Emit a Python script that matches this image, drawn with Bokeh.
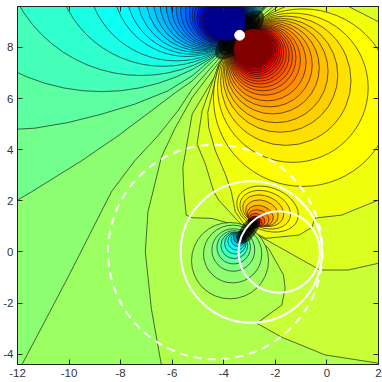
from bokeh.plotting import figure
from bokeh.models import LinearAxis, FixedTicker, Range1d
from bokeh.embed import file_html
from bokeh.resources import INLINE

x_ticks = [-12, -10, -8, -6, -4, -2, 0, 2]
y_ticks = [-4, -2, 0, 2, 4, 6, 8]

# traced outer contour levels (data units)
T = (-3.385, 8.488)
D = (-3.04, 0.858)
band_L4_x = [-6.424,-6.811,-7.043,-6.94,-6.747,-6.424,-5.909,-5.226,T[0],-2.329,2,2]
band_L4_y = [-4.4,-2.2,0.011,1.574,2.355,3.696,4.803,6.04,T[1],9.6,9.6,-4.4]
band_C_x = [T[0],-5.226,-5.587,-5.548,-5.458,-5.228,-4.455,-3.553,D[0],-2.264,-1.684,-1.62,-1.749,-2.715,-1.749,-0.073,2,2,-2.084]
band_C_y = [T[1],5.389,3.306,2.355,1.444,1.339,1.313,1.053,D[1],0.141,-0.9,-1.421,-2.072,-2.788,-3.335,-4.025,-4.35,9.6,9.6]
band_B_x = [T[0],-4.197,-4.841,-5.035,-4.713,-4.39,-4.197,-3.424,D[0],-1.877,-0.267,0.829,2,2,-1.903]
band_B_y = [T[1],7.342,5.519,4.217,3.436,2.355,2.03,1.183,D[1],0.207,-0.705,-0.705,-0.44,9.6,9.6]
band_A_x = [T[0],-4.184,-4.622,-4.584,-4.326,-3.939,-3.707,-3.553,D[0],-2.367,-1.078,-0.588,-0.459,0.571,2,2,0.842,-1.607,-2.393]
band_A_y = [T[1],7.342,5.454,4.868,3.957,3.045,2.355,1.574,D[1],0.532,0.662,0.962,1.326,1.443,2.03,9.0,9.6,9.6,9.23]
band_L3_x = [-11.824,-10.097,-8.357,-7.455,-6.553,-5.78,-5.226,T[0],-2.367,-12,-12]
band_L3_y = [-4.4,-1.096,2.355,3.566,4.543,5.519,6.366,T[1],9.6,9.6,-4.4]
band_L2_x = [-12,-11.45,-9.517,-8.1,-6.811,-5.78,-5.226,T[0],-2.4,-12]
band_L2_y = [2.03,2.355,3.566,4.543,5.519,6.3,6.69,T[1],9.6,9.6]
band_L1_x = [-12,-11.321,-10.033,-8.744,-7.455,-6.167,-5.226,T[0],-2.43,-12]
band_L1_y = [4.803,4.842,5.063,5.389,5.78,6.3,6.886,T[1],9.6,9.6]

base_colour = "#9cff62"
red_bands = [(band_L4_x,band_L4_y,"#b0ff4f"),(band_C_x,band_C_y,"#c8ff36"),(band_B_x,band_B_y,"#dcff22"),(band_A_x,band_A_y,"#f0ff0e")]
blue_bands = [(band_L3_x,band_L3_y,"#8cff72"),(band_L2_x,band_L2_y,"#72ff8c"),(band_L1_x,band_L1_y,"#5cffa2")]

# upper pair: rings tangent at T, radius in data units
red_ring_r = [3.47,2.92,2.53,2.23,2.01,1.81,1.65,1.51,1.38,1.28,1.2,1.125,1.06,1.0,0.95,0.905,0.864,0.826,0.792]
red_ring_c = ["#ffff00","#fff000","#ffe000","#ffd000","#ffc000","#ffb000","#ffa000","#ff9000","#ff8000","#ff7000","#ff6000","#ff5000","#ff4000","#ff3000","#ff2000","#ff1000","#ff0000","#f00000","#e00000"]
blue_ring_r = [7.57,5.42,4.19,3.47,2.88,2.58,2.34,2.13,1.96,1.81,1.67,1.55,1.44,1.34,1.23,1.14,1.08,1.03,0.97,0.93,0.89,0.85,0.82,0.785]
blue_ring_c = ["#46ffb8","#30ffce","#1affe4","#0cfff2","#00ffff","#00f0ff","#00e0ff","#00d0ff","#00c0ff","#00b0ff","#00a0ff","#0090ff","#0080ff","#0070ff","#0060ff","#0050ff","#0040ff","#0030ff","#0020ff","#0010ff","#0000ff","#0000e0","#0000c0","#0000a0"]
disk_r = [0.766, 0.753]
disk_c = ["#800000", "#00008f"]
disk_dir = [1, -1]

# lower pair
lobe_b_x = [-3.758,-3.655,-3.63,-3.617,-3.591,-3.552,-3.501,-3.449,-3.397,-3.346,-3.294,-3.243,-3.191,-3.14]
lobe_b_y = [-0.34,-0.079,0.077,0.181,0.259,0.338,0.416,0.494,0.559,0.624,0.676,0.728,0.767,0.806]
lobe_b_r = [1.494,1.13,0.831,0.649,0.519,0.416,0.338,0.273,0.221,0.175,0.143,0.11,0.078,0.052]
lobe_b_c = ["#a0ff60","#8fff70","#80ff80","#60ffa0","#40ffc0","#20ffe0","#00ffff","#00d8e8","#00a8c0","#008098","#005870","#003848","#001820","#000000"]
lobe_r_x = [-2.302,-2.392,-2.47,-2.521,-2.586,-2.65,-2.727,-2.779,-2.83,-2.882,-2.934,-2.985]
lobe_r_y = [1.678,1.652,1.613,1.522,1.418,1.326,1.248,1.183,1.118,1.053,1.001,0.936]
lobe_r_w = [2.468,2.026,1.636,1.299,1.039,0.831,0.649,0.519,0.39,0.312,0.234,0.156]
lobe_r_h = [1.688,1.429,1.169,0.987,0.779,0.623,0.494,0.39,0.312,0.26,0.208,0.143]
lobe_r_c = ["#ffff00","#ffec00","#ffd800","#ffc000","#ffa000","#ff8000","#ff5000","#e03000","#a02000","#602000","#301000","#100000"]
lobe_tilt = -0.35

# dark patches where the contour lines merge
core_x = [T[0], T[0], T[0], D[0], D[0], D[0]]
core_y = [T[1], T[1], T[1], D[1], D[1], D[1]]
core_w = [2.5, 2.1, 1.7, 1.3, 1.0, 0.75]
core_h = [1.0, 0.75, 0.5, 0.6, 0.42, 0.28]
core_angle = [0.785, 0.785, 0.785, 0.93, 0.93, 0.93]

# white markers
circle_x = [-1.85, -2.93]
circle_y = [0.0, 0.0]
circle_r = [1.58, 2.74]
dashed_x, dashed_y, dashed_r = -4.33, 0.0, 4.16
dot_x, dot_y, dot_r = -3.385, 8.475, 0.19

p = figure(width=382, height=382, output_backend="svg", toolbar_location=None,
           x_range=Range1d(-12, 2), y_range=Range1d(-4.4, 9.6),
           min_border_left=16, min_border_right=4, min_border_top=6, min_border_bottom=18,
           x_axis_type=None, y_axis_type=None,
           background_fill_color=base_colour, outline_line_color="#222222", outline_line_width=1)
p.grid.visible = False

LW = 0.8
LC = "#111111"
LA = 0.8
def band(xs, ys, c):
    p.patch(xs, ys, fill_color=c, line_color=LC, line_width=LW, line_alpha=LA)
def rings(x, y, w, h, c, angle=0.0):
    p.ellipse(x=x, y=y, width=w, height=h, angle=angle, fill_color=c, line_color=LC, line_width=LW, line_alpha=LA)

for xs, ys, c in red_bands:
    band(xs, ys, c)
k = 0.7071
rings([T[0]+r*k for r in red_ring_r], [T[1]-r*k for r in red_ring_r],
      [2*r for r in red_ring_r], [2*r for r in red_ring_r], red_ring_c)
for xs, ys, c in blue_bands:
    band(xs, ys, c)
rings([T[0]-r*k for r in blue_ring_r], [T[1]+r*k for r in blue_ring_r],
      [2*r for r in blue_ring_r], [2*r for r in blue_ring_r], blue_ring_c)
rings(lobe_b_x, lobe_b_y, [2*r for r in lobe_b_r], [2*r for r in lobe_b_r], lobe_b_c)
rings(lobe_r_x, lobe_r_y, lobe_r_w, lobe_r_h, lobe_r_c, angle=lobe_tilt)
p.ellipse(x=core_x, y=core_y, width=core_w, height=core_h, angle=core_angle, fill_color="#000000", fill_alpha=0.6, line_color=None)
p.ellipse(x=[T[0]+d*r*k for d, r in zip(disk_dir, disk_r)], y=[T[1]-d*r*k for d, r in zip(disk_dir, disk_r)],
          width=[2*r for r in disk_r], height=[2*r for r in disk_r], fill_color=disk_c, line_color=None)

p.circle(x=dashed_x, y=dashed_y, radius=dashed_r, fill_color=None, line_color="white", line_width=2, line_dash="8 6")
p.circle(x=circle_x, y=circle_y, radius=circle_r, fill_color=None, line_color="white", line_width=2)
p.circle(x=dot_x, y=dot_y, radius=dot_r, fill_color="white", line_color="white")

def axis(loc, ticks, labels):
    a = LinearAxis(ticker=FixedTicker(ticks=ticks))
    a.major_tick_in = 5
    a.major_tick_out = 0
    a.minor_tick_line_color = None
    a.axis_line_color = "#222222"
    a.major_tick_line_color = "#222222"
    a.major_label_text_font = "Liberation Sans"
    a.major_label_text_font_size = "11.5px"
    a.major_label_text_color = "#333333"
    a.major_label_standoff = 4
    if labels:
        a.major_label_overrides = {t: str(t) for t in ticks}
    else:
        a.major_label_overrides = {t: "" for t in ticks}
        a.major_label_standoff = 0
    p.add_layout(a, loc)

axis("below", x_ticks, True)
axis("left", y_ticks, True)
axis("above", x_ticks, False)
axis("right", y_ticks, False)

open("out.html", "w").write(file_html(p, INLINE))
